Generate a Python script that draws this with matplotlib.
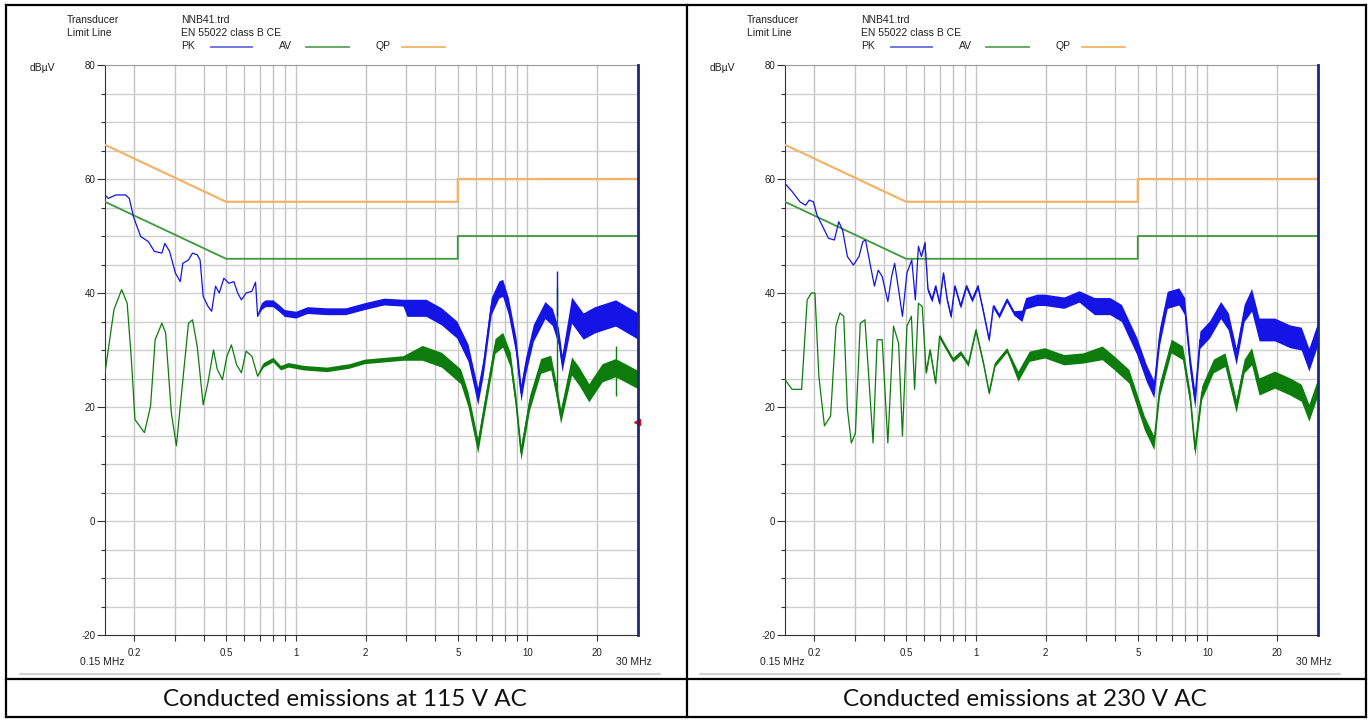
import numpy as np
import matplotlib
matplotlib.use('Agg')
import matplotlib.pyplot as plt
from matplotlib.lines import Line2D

# ---- data (MHz, dBuV) ----
lim_f = [0.15, 0.5, 5.0, 5.0, 30.0]
lim_qp = [66, 56, 56, 60, 60]
lim_av = [56, 46, 46, 50, 50]

# 115 V AC
pk115_f = [0.150, 0.155, 0.167, 0.184, 0.191, 0.199, 0.206, 0.214, 0.231, 0.245,
           0.264, 0.272, 0.285, 0.302, 0.317, 0.325, 0.344, 0.358, 0.375, 0.386,
           0.398, 0.417, 0.433, 0.450, 0.467, 0.489, 0.514, 0.540, 0.561, 0.582,
           0.610, 0.646, 0.670, 0.684, 0.710, 0.738, 0.796, 0.843, 0.892, 1.00,
           1.12, 1.36, 1.64, 1.98, 2.40, 2.90, 3.02, 3.65, 4.25, 4.95,
           5.54, 6.10, 6.45, 6.97, 7.52, 7.81, 8.27, 8.92, 9.37, 9.81,
           10.6, 11.9, 12.8, 13.6, 14.1, 15.5, 17.4, 19.5, 24.0, 30.0]
pk115_db = [57.2, 56.6, 57.2, 57.2, 56.6, 53.4, 51.7, 49.9, 49.0, 47.3,
            47.0, 48.7, 47.3, 43.5, 42.0, 45.2, 45.8, 47.0, 46.7, 45.8,
            39.4, 37.7, 36.8, 41.2, 40.0, 42.6, 41.7, 42.0, 40.0, 38.8,
            40.0, 40.3, 41.9, 35.9, 37.7, 38.2, 38.2, 37.4, 36.5, 36.2,
            37.0, 36.8, 36.8, 37.7, 38.5, 38.3, 37.4, 37.4, 35.9, 33.6,
            29.5, 21.9, 27.2, 37.7, 40.6, 40.9, 37.7, 30.7, 22.5, 27.2,
            33.0, 37.0, 35.8, 32.4, 27.7, 37.0, 34.2, 35.3, 36.5, 34.2]
pk115_spread = [(0.15, 0.0), (0.7, 0.6), (3.0, 1.5), (14.5, 2.3)]
pk115_spike = (13.4, 43.8)

av115_f = [0.150, 0.164, 0.177, 0.187, 0.195, 0.202, 0.222, 0.236, 0.247, 0.264,
           0.274, 0.290, 0.305, 0.319, 0.344, 0.358, 0.375, 0.398, 0.417, 0.441,
           0.458, 0.482, 0.504, 0.527, 0.555, 0.582, 0.610, 0.646, 0.684, 0.724,
           0.796, 0.859, 0.927, 1.08, 1.36, 1.70, 1.98, 2.90, 3.51, 4.25,
           5.14, 5.54, 6.10, 6.45, 7.24, 7.81, 8.43, 8.92, 9.37, 10.2,
           11.4, 12.6, 13.3, 13.9, 15.5, 16.7, 18.4, 21.0, 24.0, 30.0]
av115_db = [26.0, 37.1, 40.6, 38.2, 28.3, 17.8, 15.5, 20.2, 31.8, 34.7,
            33.0, 19.0, 13.2, 21.3, 34.7, 35.3, 30.7, 20.4, 24.2, 30.0,
            26.6, 24.8, 28.9, 30.9, 27.4, 26.0, 29.8, 28.9, 25.4, 27.4,
            28.3, 26.9, 27.4, 26.9, 26.6, 27.2, 28.0, 28.6, 29.5, 28.3,
            25.4, 21.3, 13.2, 19.0, 30.7, 31.8, 28.3, 20.7, 12.0, 20.7,
            27.2, 27.8, 23.1, 18.4, 27.2, 25.4, 22.5, 26.0, 26.9, 24.8]
av115_spread = [(0.15, 0.0), (0.7, 0.4), (3.0, 1.3), (14.5, 1.6)]
av115_spikes = [(13.4, 41.0), (24.0, 30.7)]

# 230 V AC
pk230_f = [0.150, 0.161, 0.174, 0.184, 0.191, 0.199, 0.206, 0.218, 0.231, 0.245,
           0.256, 0.266, 0.279, 0.296, 0.313, 0.325, 0.334, 0.351, 0.365, 0.379,
           0.394, 0.417, 0.433, 0.446, 0.464, 0.482, 0.504, 0.529, 0.548, 0.565,
           0.582, 0.603, 0.621, 0.646, 0.670, 0.697, 0.724, 0.752, 0.781, 0.811,
           0.859, 0.910, 0.963, 1.02, 1.08, 1.14, 1.19, 1.26, 1.36, 1.46,
           1.58, 1.64, 1.84, 1.98, 2.40, 2.79, 3.25, 3.79, 4.25, 4.95,
           5.44, 5.87, 6.21, 6.70, 7.52, 7.96, 8.43, 8.82, 9.27, 10.2,
           11.4, 12.3, 13.3, 14.4, 15.5, 16.7, 19.5, 22.7, 25.4, 27.4, 30.0]
pk230_db = [59.2, 57.8, 56.0, 55.4, 56.3, 56.0, 53.7, 51.7, 49.6, 49.3,
            52.5, 51.0, 46.4, 44.9, 46.4, 49.0, 49.3, 44.7, 41.2, 44.0,
            42.9, 38.5, 42.9, 45.2, 40.6, 35.9, 43.5, 45.8, 38.8, 48.2,
            46.4, 48.8, 40.6, 38.8, 41.2, 38.2, 43.5, 38.8, 35.9, 41.2,
            37.7, 41.2, 38.8, 41.2, 36.5, 31.8, 37.7, 36.0, 38.8, 36.5,
            36.0, 38.2, 38.8, 38.8, 38.3, 39.4, 37.7, 37.7, 36.5, 30.7,
            26.0, 23.1, 32.4, 38.8, 39.4, 37.7, 27.2, 21.3, 31.8, 33.6,
            37.0, 35.0, 28.9, 36.5, 38.8, 33.6, 33.6, 32.4, 32.0, 28.3, 33.0]
pk230_spread = [(0.15, 0.0), (0.6, 0.4), (1.5, 1.0), (3.0, 1.5), (14.5, 2.0)]

av230_f = [0.150, 0.161, 0.177, 0.187, 0.195, 0.202, 0.210, 0.222, 0.236, 0.249,
           0.259, 0.269, 0.279, 0.290, 0.302, 0.317, 0.332, 0.344, 0.360, 0.375,
           0.394, 0.417, 0.441, 0.464, 0.482, 0.504, 0.527, 0.544, 0.565, 0.587,
           0.610, 0.634, 0.670, 0.697, 0.738, 0.796, 0.859, 0.927, 1.00, 1.08,
           1.14, 1.21, 1.36, 1.52, 1.70, 1.98, 2.40, 2.90, 3.51, 3.94,
           4.58, 5.34, 5.87, 6.21, 6.97, 7.81, 8.43, 8.82, 9.44, 10.6,
           11.9, 13.3, 14.4, 15.5, 16.7, 19.5, 22.7, 25.4, 27.4, 30.0]
av230_db = [24.8, 23.1, 23.1, 38.8, 40.0, 40.0, 25.4, 16.7, 18.4, 34.2,
            36.5, 35.9, 19.6, 13.7, 15.4, 34.7, 35.3, 26.0, 13.7, 31.8,
            31.8, 13.7, 34.2, 31.2, 14.9, 34.2, 35.9, 23.1, 38.2, 37.6,
            26.0, 30.0, 24.2, 32.4, 30.6, 28.3, 29.5, 27.5, 33.5, 27.5,
            22.5, 27.5, 30.0, 25.4, 28.9, 29.5, 28.3, 28.6, 29.5, 27.8,
            25.4, 17.2, 13.7, 23.1, 30.7, 29.5, 21.3, 12.6, 22.5, 27.2,
            28.3, 20.2, 27.2, 28.9, 23.6, 24.8, 23.6, 22.5, 19.0, 23.6]
av230_spread = [(0.15, 0.0), (0.6, 0.4), (1.5, 0.9), (3.0, 1.2), (14.5, 1.5)]

captions = ['Conducted emissions at 115 V AC', 'Conducted emissions at 230 V AC']
xtick_major = [0.2, 0.5, 1, 2, 5, 10, 20]
xgrid = [0.2, 0.3, 0.4, 0.5, 0.6, 0.7, 0.8, 0.9, 1, 2, 3, 4, 5, 6, 7, 8, 9, 10, 20]

C_PK = '#1414e6'
C_AV = '#0c7d0c'
C_QP_LIM = '#f2b468'
C_AV_LIM = '#3e983e'
W, H = 1370, 720

plt.rcParams['font.family'] = ['Liberation Sans', 'DejaVu Sans']
plt.rcParams['axes.unicode_minus'] = False
fig = plt.figure(figsize=(W / 100, H / 100), dpi=100)


def spread_for(freqs, steps):
    freqs = np.asarray(freqs)
    out = np.zeros(len(freqs))
    for f0, s in steps:
        out[freqs >= f0] = s
    return out


def trace(ax, f, db, steps, color):
    f = np.asarray(f)
    db = np.asarray(db)
    s = spread_for(f, steps)
    ax.fill_between(f, db - s, db + s, color=color, lw=0, zorder=4)
    ax.plot(f, db, color=color, lw=0.9, zorder=5)


def px(x, y):
    return x / W, 1 - y / H


def panel(off, pk, av, caption, marker=False, spikes_pk=None, spikes_av=None):
    ax = fig.add_axes([(105 + off) / W, 1 - 635 / H, 533 / W, 570 / H])
    ax.set_xscale('log')
    ax.set_xlim(0.15, 30)
    ax.set_ylim(-20, 80)
    for g in xgrid:
        ax.axvline(g, color='#c4c4c4', lw=1, zorder=1)
    for v in range(-15, 80, 5):
        ax.axhline(v, color='#cfcfcf', lw=1, zorder=1)

    ax.plot(lim_f, lim_qp, color=C_QP_LIM, lw=1.6, zorder=3)
    ax.plot(lim_f, lim_av, color=C_AV_LIM, lw=1.3, zorder=3)
    trace(ax, *av, C_AV)
    trace(ax, *pk, C_PK)
    if spikes_av:
        for f, top in spikes_av:
            ax.vlines(f, 22, top, color=C_AV, lw=1, zorder=6)
    if spikes_pk:
        f, top = spikes_pk
        ax.vlines(f, 36, top, color=C_PK, lw=1, zorder=6)
    if marker:
        ax.plot([29.6], [17.4], marker='<', color='#e01010', ms=5, clip_on=False, zorder=7)

    ax.set_xticks(xgrid)
    ax.set_xticklabels([('%g' % g) if g in xtick_major else '' for g in xgrid])
    ax.minorticks_off()
    ax.set_yticks([-20, 0, 20, 40, 60, 80])
    ax.set_yticks(range(-15, 80, 5), minor=True)
    ax.tick_params(axis='x', which='major', length=4, width=0.8, color='#333333',
                   labelsize=7, pad=5)
    ax.tick_params(axis='y', which='major', length=6, width=0.8, color='#333333',
                   labelsize=7, pad=1)
    ax.tick_params(axis='y', which='minor', length=3, width=0.8, color='#333333')
    for lab in ax.get_xticklabels() + ax.get_yticklabels():
        lab.set_color('#222222')
    ax.spines['left'].set_color('#333333')
    ax.spines['bottom'].set_color('#333333')
    ax.spines['top'].set_color('#9a9a9a')
    ax.spines['right'].set_color('#1c2878')
    ax.spines['right'].set_linewidth(2)
    ax.spines['right'].set_zorder(8)

    tk = dict(fontsize=7.5, color='#222222', va='center')
    fig.text(*px(67 + off, 20), 'Transducer', **tk)
    fig.text(*px(67 + off, 33), 'Limit Line', **tk)
    fig.text(*px(181 + off, 20), 'NNB41.trd', **tk)
    fig.text(*px(181 + off, 33), 'EN 55022 class B CE', **tk)
    fig.text(*px(181 + off, 46), 'PK', **tk)
    fig.text(*px(279 + off, 46), 'AV', **tk)
    fig.text(*px(376 + off, 46), 'QP', **tk)
    fig.text(*px(30 + off, 68), 'dBµV', **tk)
    for x0, x1, c in [(211, 252, '#6a6ae0'), (306, 349, '#5aa45a'), (402, 445, '#f2b468')]:
        fig.add_artist(Line2D([(x0 + off) / W, (x1 + off) / W], [1 - 47 / H] * 2,
                              color=c, lw=1.3))
    fig.text(*px(80 + off, 662), '0.15 MHz', **tk)
    fig.text(*px(652 + off, 662), '30 MHz', ha='right', **tk)
    fig.add_artist(Line2D([(20 + off) / W, (660 + off) / W], [1 - 674 / H] * 2,
                          color='#c8c8c8', lw=1.2))
    fig.text(*px(345 + off, 700), caption, ha='center', va='center', fontsize=17.5,
             color='#111111', family=['Lato', 'DejaVu Sans'])
    return ax


panel(0, (pk115_f, pk115_db, pk115_spread), (av115_f, av115_db, av115_spread),
      captions[0], marker=True, spikes_pk=pk115_spike, spikes_av=av115_spikes)
panel(680, (pk230_f, pk230_db, pk230_spread), (av230_f, av230_db, av230_spread),
      captions[1])

# table borders
bk = dict(color='black', lw=1.6)
for (x0, y0, x1, y1) in [(6, 5, 1366, 5), (6, 717, 1366, 717), (6, 5, 6, 717),
                         (1366, 5, 1366, 717), (687, 5, 687, 717), (6, 679, 1366, 679)]:
    fig.add_artist(Line2D([x0 / W, x1 / W], [1 - y0 / H, 1 - y1 / H], **bk))

fig.savefig('out.png', dpi=100)
